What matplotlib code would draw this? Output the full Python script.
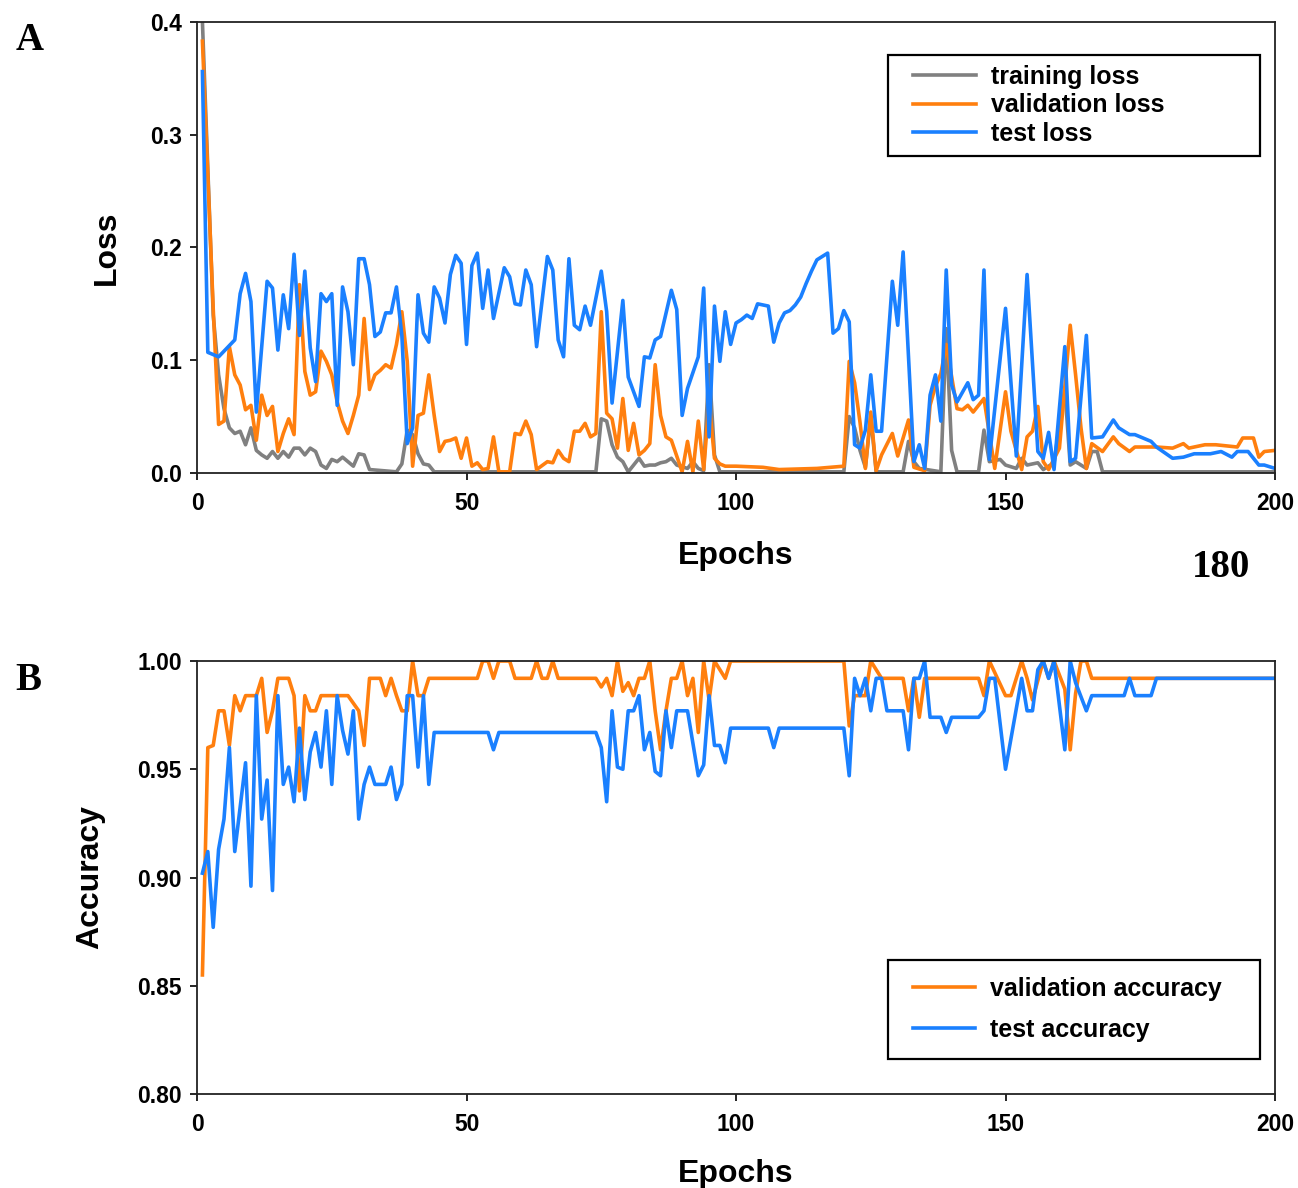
import matplotlib
matplotlib.use('Agg')
import matplotlib.pyplot as plt
from matplotlib.lines import Line2D
from matplotlib.legend_handler import HandlerLine2D

# ---- panel A: loss curves (epoch, value) ----
train_loss_ep = [1, 3, 4, 5, 6, 7, 8, 9, 10, 11, 12, 13, 14, 15, 16, 17, 18, 19, 20, 21, 22, 23, 24, 25,
                 26, 27, 28, 29, 30, 31, 32, 37, 38, 39, 40, 41, 42, 43, 44, 74, 75, 76, 77, 78, 79, 80,
                 82, 83, 84, 85, 86, 87, 88, 89, 91, 92, 93, 94, 95, 96, 97, 120, 121, 122, 123, 124,
                 125, 126, 131, 132, 133, 134, 138, 139, 140, 141, 145, 146, 147, 149, 150, 152, 153,
                 154, 156, 157, 159, 161, 162, 163, 165, 166, 167, 168, 200]
train_loss = [0.400, 0.140, 0.087, 0.057, 0.040, 0.035, 0.037, 0.025, 0.040, 0.020, 0.016, 0.013, 0.019,
              0.013, 0.019, 0.014, 0.022, 0.022, 0.016, 0.022, 0.019, 0.007, 0.004, 0.012, 0.010, 0.014,
              0.010, 0.006, 0.017, 0.016, 0.003, 0.001, 0.008, 0.038, 0.034, 0.017, 0.008, 0.007, 0.001,
              0.001, 0.048, 0.046, 0.025, 0.014, 0.010, 0.001, 0.013, 0.006, 0.007, 0.007, 0.009, 0.010,
              0.013, 0.007, 0.004, 0.010, 0.004, 0.002, 0.096, 0.016, 0.001, 0.001, 0.050, 0.040, 0.020,
              0.005, 0.050, 0.001, 0.001, 0.028, 0.010, 0.004, 0.001, 0.128, 0.020, 0.001, 0.001, 0.038,
              0.010, 0.012, 0.007, 0.004, 0.013, 0.007, 0.009, 0.003, 0.009, 0.075, 0.007, 0.010, 0.004,
              0.019, 0.019, 0.001, 0.001]

val_loss_ep = [1, 3, 4, 5, 6, 7, 8, 9, 10, 11, 12, 13, 14, 15, 16, 17, 18, 19, 20, 21, 22, 23, 24, 25,
               26, 27, 28, 29, 30, 31, 32, 33, 34, 35, 36, 37, 38, 39, 40, 41, 42, 43, 44, 45, 46, 47,
               48, 49, 50, 51, 52, 53, 54, 55, 56, 58, 59, 60, 61, 62, 63, 65, 66, 67, 68, 69, 70, 71,
               72, 73, 74, 75, 76, 77, 78, 79, 80, 81, 82, 83, 84, 85, 86, 87, 88, 90, 91, 92, 93, 94,
               95, 96, 97, 98, 100, 105, 108, 115, 120, 121, 122, 123, 124, 125, 126, 127, 129, 130,
               131, 132, 133, 135, 136, 137, 138, 139, 141, 142, 143, 144, 145, 146, 148, 150, 151, 153,
               154, 155, 156, 157, 158, 160, 162, 163, 164, 165, 166, 168, 170, 171, 173, 174, 177, 178,
               181, 183, 184, 187, 189, 191, 193, 194, 196, 197, 198, 200]
val_loss = [0.383, 0.146, 0.043, 0.046, 0.112, 0.087, 0.078, 0.056, 0.060, 0.029, 0.069, 0.051, 0.059,
            0.019, 0.035, 0.048, 0.034, 0.167, 0.090, 0.069, 0.072, 0.108, 0.099, 0.087, 0.063, 0.046,
            0.035, 0.051, 0.069, 0.137, 0.074, 0.087, 0.091, 0.096, 0.093, 0.114, 0.143, 0.099, 0.006,
            0.051, 0.053, 0.087, 0.051, 0.019, 0.028, 0.029, 0.031, 0.013, 0.031, 0.006, 0.009, 0.003,
            0.004, 0.032, 0.001, 0.001, 0.035, 0.034, 0.046, 0.034, 0.003, 0.010, 0.009, 0.020, 0.013,
            0.010, 0.037, 0.037, 0.044, 0.032, 0.035, 0.143, 0.053, 0.048, 0.022, 0.066, 0.020, 0.044,
            0.016, 0.020, 0.026, 0.096, 0.051, 0.032, 0.029, 0.001, 0.028, 0.001, 0.046, 0.003, 0.063,
            0.013, 0.008, 0.006, 0.006, 0.005, 0.003, 0.004, 0.006, 0.099, 0.080, 0.045, 0.004, 0.054,
            0.002, 0.016, 0.035, 0.015, 0.031, 0.047, 0.005, 0.002, 0.060, 0.077, 0.088, 0.114, 0.057,
            0.056, 0.060, 0.054, 0.060, 0.066, 0.004, 0.072, 0.037, 0.003, 0.032, 0.037, 0.059, 0.010,
            0.003, 0.022, 0.131, 0.087, 0.040, 0.004, 0.026, 0.019, 0.032, 0.026, 0.019, 0.023, 0.023,
            0.023, 0.022, 0.026, 0.022, 0.025, 0.025, 0.024, 0.023, 0.031, 0.031, 0.014, 0.019, 0.020]

test_loss_ep = [1, 2, 4, 7, 8, 9, 10, 11, 13, 14, 15, 16, 17, 18, 19, 20, 21, 22, 23, 24, 25, 26, 27, 28,
                29, 30, 31, 32, 33, 34, 35, 36, 37, 38, 39, 40, 41, 42, 43, 44, 45, 46, 47, 48, 49, 50,
                51, 52, 53, 54, 55, 57, 58, 59, 60, 61, 62, 63, 65, 66, 67, 68, 69, 70, 71, 72, 73, 75,
                76, 77, 79, 80, 82, 83, 84, 85, 86, 88, 89, 90, 91, 93, 94, 95, 96, 97, 98, 99, 100,
                101, 102, 103, 104, 105, 106, 107, 108, 109, 110, 111, 112, 113, 114, 115, 116, 117, 118,
                119, 120, 121, 122, 123, 124, 125, 126, 127, 129, 130, 131, 133, 134, 135, 136, 137, 138,
                139, 140, 141, 143, 144, 145, 146, 147, 150, 152, 154, 156, 157, 158, 159, 161, 162, 163,
                165, 166, 168, 170, 171, 173, 174, 177, 178, 181, 183, 185, 188, 190, 192, 193, 195, 197,
                198, 200]
test_loss = [0.356, 0.107, 0.103, 0.118, 0.159, 0.177, 0.152, 0.054, 0.170, 0.164, 0.109, 0.158, 0.128,
             0.194, 0.122, 0.179, 0.111, 0.081, 0.159, 0.152, 0.159, 0.060, 0.165, 0.143, 0.096, 0.190,
             0.190, 0.167, 0.121, 0.125, 0.142, 0.142, 0.165, 0.122, 0.026, 0.040, 0.158, 0.124, 0.116,
             0.165, 0.155, 0.133, 0.176, 0.193, 0.186, 0.114, 0.184, 0.195, 0.146, 0.180, 0.137, 0.182,
             0.174, 0.150, 0.149, 0.180, 0.167, 0.112, 0.192, 0.180, 0.118, 0.103, 0.190, 0.131, 0.127,
             0.148, 0.131, 0.179, 0.143, 0.062, 0.153, 0.085, 0.059, 0.103, 0.102, 0.118, 0.121, 0.162,
             0.145, 0.051, 0.075, 0.103, 0.164, 0.032, 0.148, 0.099, 0.143, 0.114, 0.133, 0.136, 0.140,
             0.137, 0.150, 0.149, 0.148, 0.116, 0.133, 0.142, 0.144, 0.149, 0.156, 0.168, 0.179, 0.189,
             0.192, 0.195, 0.124, 0.128, 0.144, 0.134, 0.025, 0.022, 0.038, 0.087, 0.037, 0.037, 0.170,
             0.131, 0.196, 0.010, 0.025, 0.004, 0.069, 0.087, 0.046, 0.180, 0.078, 0.063, 0.080, 0.065,
             0.069, 0.180, 0.012, 0.146, 0.015, 0.176, 0.019, 0.013, 0.036, 0.003, 0.112, 0.010, 0.013,
             0.122, 0.031, 0.032, 0.047, 0.040, 0.034, 0.034, 0.028, 0.023, 0.013, 0.014, 0.017, 0.017,
             0.019, 0.014, 0.019, 0.019, 0.007, 0.007, 0.004]

# ---- panel B: accuracy curves ----
val_acc_ep = [1, 2, 3, 4, 5, 6, 7, 8, 9, 11, 12, 13, 14, 15, 17, 18, 19, 20, 21, 22, 23, 28, 30, 31, 32,
              34, 35, 36, 37, 38, 39, 40, 41, 42, 43, 52, 53, 54, 55, 56, 58, 59, 62, 63, 64, 65, 66,
              67, 74, 75, 76, 77, 78, 79, 80, 81, 82, 83, 84, 85, 86, 87, 88, 89, 90, 91, 92, 93, 94,
              95, 96, 98, 99, 120, 121, 122, 124, 125, 127, 131, 132, 133, 134, 135, 145, 146, 147,
              150, 151, 153, 154, 155, 157, 158, 159, 161, 162, 163, 164, 165, 166, 200]
val_acc = [0.855, 0.960, 0.961, 0.977, 0.977, 0.961, 0.984, 0.977, 0.984, 0.984, 0.992, 0.967, 0.977,
           0.992, 0.992, 0.984, 0.940, 0.984, 0.977, 0.977, 0.984, 0.984, 0.977, 0.961, 0.992, 0.992,
           0.984, 0.992, 0.984, 0.977, 0.977, 1.000, 0.984, 0.984, 0.992, 0.992, 1.000, 1.000, 0.992,
           1.000, 1.000, 0.992, 0.992, 1.000, 0.992, 0.992, 1.000, 0.992, 0.992, 0.988, 0.992, 0.984,
           1.000, 0.986, 0.990, 0.984, 0.992, 0.992, 1.000, 0.977, 0.959, 0.977, 0.992, 0.992, 1.000,
           0.984, 0.992, 0.967, 1.000, 0.982, 1.000, 0.992, 1.000, 1.000, 0.970, 0.984, 0.984, 1.000,
           0.992, 0.992, 0.977, 0.992, 0.974, 0.992, 0.992, 0.984, 1.000, 0.984, 0.984, 1.000, 0.992,
           0.982, 1.000, 0.992, 1.000, 0.987, 0.959, 0.985, 1.000, 1.000, 0.992, 0.992]

test_acc_ep = [1, 2, 3, 4, 5, 6, 7, 9, 10, 11, 12, 13, 14, 15, 16, 17, 18, 19, 20, 21, 22, 23, 24, 25,
               26, 27, 28, 29, 30, 31, 32, 33, 35, 36, 37, 38, 39, 40, 41, 42, 43, 44, 54, 55, 56, 74,
               75, 76, 77, 78, 79, 80, 81, 82, 83, 84, 85, 86, 87, 88, 89, 91, 93, 94, 95, 96, 97, 98,
               99, 106, 107, 108, 120, 121, 122, 123, 124, 125, 126, 127, 128, 131, 132, 133, 134, 135,
               136, 138, 139, 140, 145, 146, 147, 148, 150, 153, 154, 155, 156, 157, 158, 159, 161, 162,
               163, 165, 166, 172, 173, 174, 177, 178, 200]
test_acc = [0.902, 0.912, 0.877, 0.913, 0.927, 0.960, 0.912, 0.953, 0.896, 0.984, 0.927, 0.945, 0.894,
            0.984, 0.943, 0.951, 0.935, 0.969, 0.936, 0.958, 0.967, 0.951, 0.977, 0.943, 0.984, 0.968,
            0.957, 0.977, 0.927, 0.943, 0.951, 0.943, 0.943, 0.951, 0.936, 0.943, 0.984, 0.984, 0.951,
            0.984, 0.943, 0.967, 0.967, 0.959, 0.967, 0.967, 0.960, 0.935, 0.977, 0.951, 0.950, 0.977,
            0.977, 0.984, 0.959, 0.967, 0.949, 0.947, 0.977, 0.960, 0.977, 0.977, 0.947, 0.952, 0.984,
            0.961, 0.961, 0.953, 0.969, 0.969, 0.960, 0.969, 0.969, 0.947, 0.992, 0.984, 0.992, 0.977,
            0.992, 0.992, 0.977, 0.977, 0.959, 0.992, 0.992, 1.000, 0.974, 0.974, 0.967, 0.974, 0.974,
            0.977, 0.992, 0.992, 0.950, 0.992, 0.977, 0.977, 0.996, 1.000, 0.992, 1.000, 0.959, 1.000,
            0.990, 0.977, 0.984, 0.984, 0.992, 0.984, 0.984, 0.992, 0.992]

GREY = '#808080'
ORANGE = '#ff7f0e'
BLUE = '#1a80ff'
SANS = 'Liberation Sans'
SERIF = 'Liberation Serif'
LW = 2.6


def style_axes(ax, ylabel, yticks, yfmt, ylabel_x):
    ax.set_xlim(0, 200)
    ax.set_xticks([0, 50, 100, 150, 200])
    ax.set_yticks(yticks)
    ax.set_yticklabels([yfmt.format(v) for v in yticks])
    ax.tick_params(axis='both', direction='out', length=5, width=1.2, labelsize=16.5, pad=6,
                   top=False, right=False)
    ax.tick_params(axis='x', pad=9)
    for lab in ax.get_xticklabels() + ax.get_yticklabels():
        lab.set_fontfamily(SANS)
        lab.set_fontweight('bold')
    for sp in ax.spines.values():
        sp.set_linewidth(1.3)
        sp.set_color('#222222')
    ax.set_xlabel('Epochs', fontsize=23, fontweight='bold', family=SANS)
    ax.xaxis.set_label_coords(0.5, -0.15)
    ax.set_ylabel(ylabel, fontsize=23, fontweight='bold', family=SANS)
    ax.yaxis.set_label_coords(ylabel_x, 0.5)


def legend_box(ax, y_top, spacing, pad, xpad, hlen):
    leg = ax.legend(loc='upper left', bbox_to_anchor=(0.641, y_top - 0.3, 0.345, 0.3), mode='expand',
                    borderaxespad=0, fancybox=False, framealpha=1, edgecolor='black',
                    handlelength=hlen, handletextpad=0.6, labelspacing=spacing, borderpad=pad,
                    handler_map={Line2D: HandlerLine2D(xpad=xpad)},
                    prop={'family': SANS, 'weight': 'bold', 'size': 18})
    leg.get_frame().set_linewidth(1.6)


fig = plt.figure(figsize=(12.98, 11.88), dpi=100)

ax1 = fig.add_axes([0.1518, 0.6019, 0.8305, 0.3796])
ax1.plot(train_loss_ep, train_loss, color=GREY, lw=LW, label='training loss')
ax1.plot(val_loss_ep, val_loss, color=ORANGE, lw=LW, label='validation loss')
ax1.plot(test_loss_ep, test_loss, color=BLUE, lw=LW, label='test loss')
ax1.set_ylim(0, 0.4)
style_axes(ax1, 'Loss', [0.0, 0.1, 0.2, 0.3, 0.4], '{:.1f}', -0.07)
legend_box(ax1, 0.927, 0.18, 0.4, 0.6, 3.1)

ax2 = fig.add_axes([0.1518, 0.0791, 0.8305, 0.3645])
ax2.plot(val_acc_ep, val_acc, color=ORANGE, lw=LW, label='validation accuracy')
ax2.plot(test_acc_ep, test_acc, color=BLUE, lw=LW, label='test accuracy')
ax2.set_ylim(0.80, 1.00)
style_axes(ax2, 'Accuracy', [0.80, 0.85, 0.90, 0.95, 1.00], '{:.2f}', -0.085)
legend_box(ax2, 0.309, 0.68, 0.68, 0.32, 2.78)

fig.text(0.023, 0.966, 'A', fontsize=28, fontweight='bold', family=SERIF, va='center', ha='center')
fig.text(0.022, 0.427, 'B', fontsize=28, fontweight='bold', family=SERIF, va='center', ha='center')
fig.text(0.941, 0.522, '180', fontsize=28, fontweight='bold', family=SERIF, va='center', ha='center')

fig.savefig('out.png', dpi=100)
